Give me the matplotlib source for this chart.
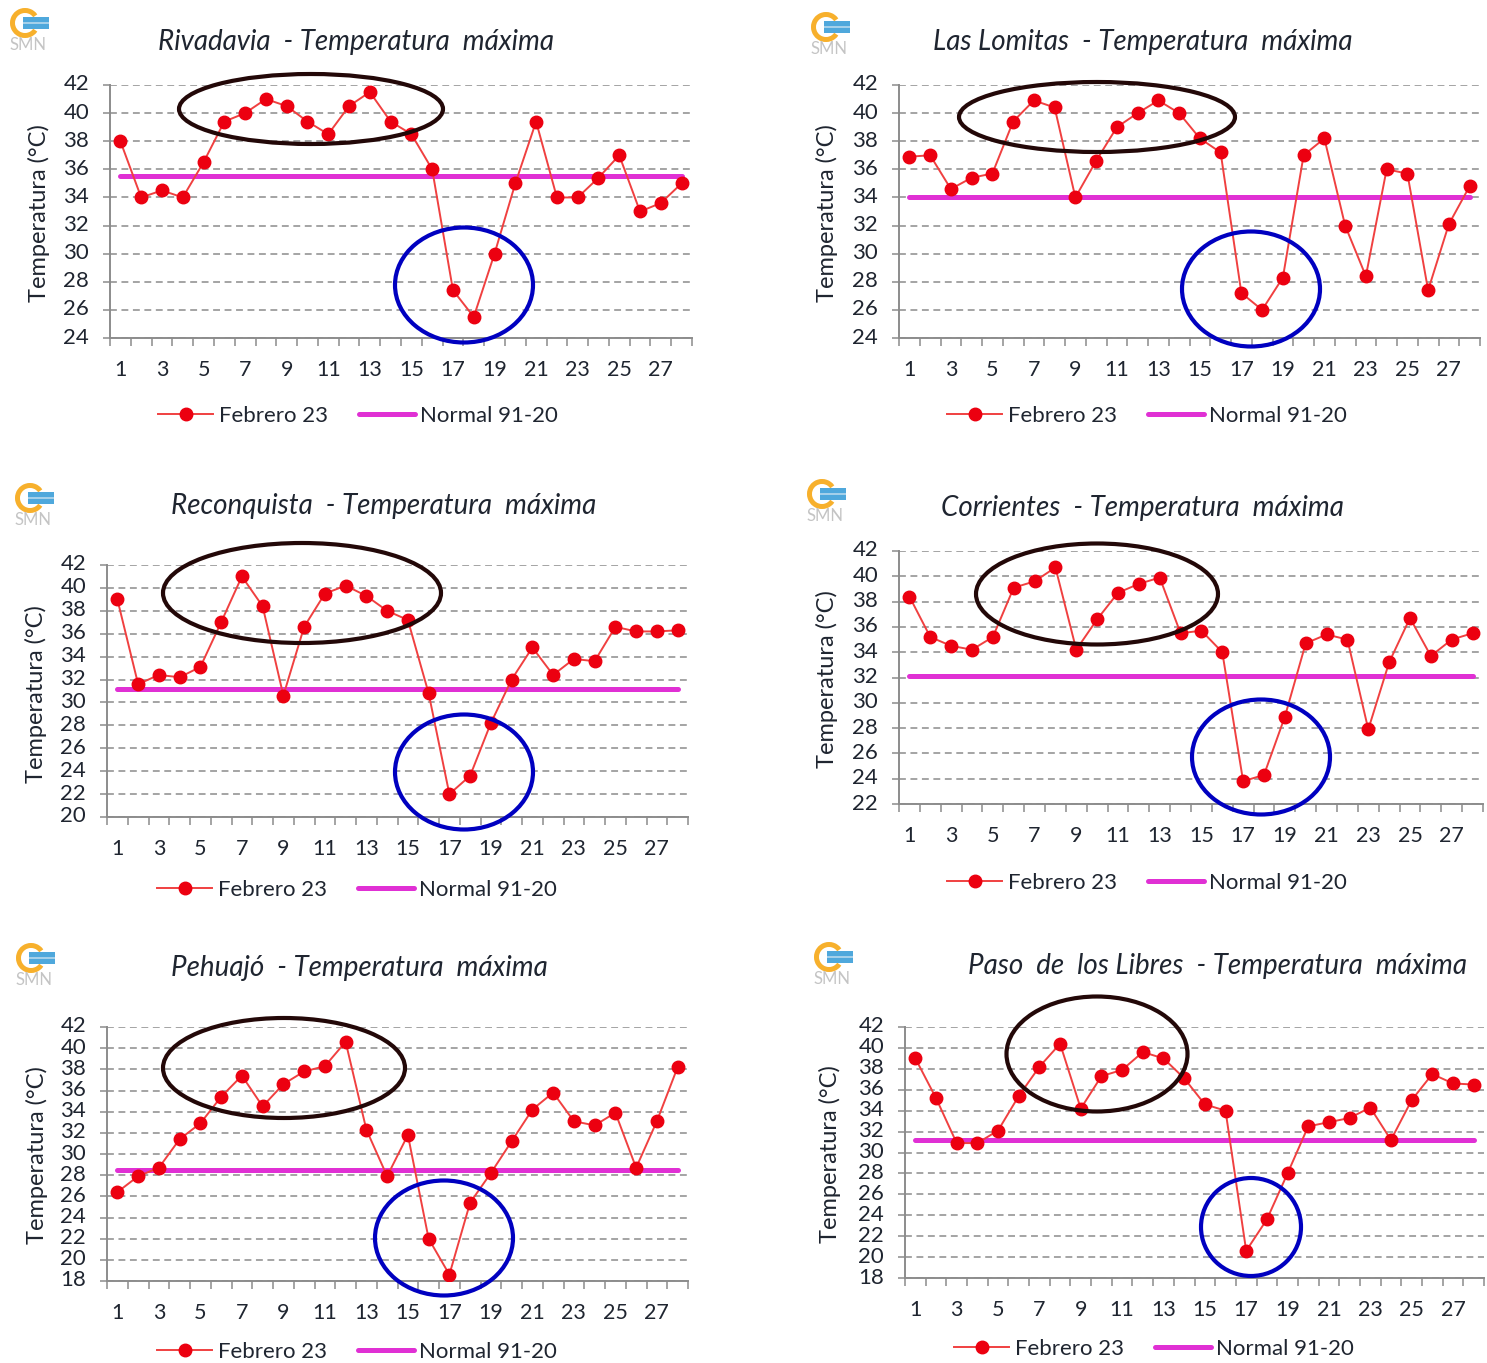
import matplotlib
matplotlib.use('Agg')
import matplotlib.pyplot as plt
import matplotlib.transforms as mtrans
from matplotlib.patches import Ellipse, Rectangle, Wedge

plt.rcParams['font.family'] = ['Lato', 'DejaVu Sans']

W, H = 1487, 1363
days = list(range(1, 29))

# Daily maximum temperature per station, February 2023
rivadavia = [38, 34, 34.5, 34, 36.5, 39.4, 40, 41, 40.5, 39.4, 38.5, 40.5, 41.5, 39.4,
             38.5, 36, 27.4, 25.5, 30, 35, 39.4, 34, 34, 35.4, 37, 33, 33.6, 35]
lomitas = [36.9, 37, 34.6, 35.4, 35.7, 39.4, 40.9, 40.4, 34, 36.6, 39, 40, 40.9, 40,
           38.2, 37.2, 27.2, 26, 28.3, 37, 38.2, 32, 28.4, 36, 35.7, 27.4, 32.1, 34.8]
reconquista = [39, 31.6, 32.4, 32.2, 33.1, 37, 41, 38.4, 30.6, 36.6, 39.5, 40.2, 39.3, 38,
               37.2, 30.8, 22, 23.6, 28.2, 32, 34.8, 32.4, 33.8, 33.6, 36.6, 36.2, 36.2, 36.3]
corrientes = [38.4, 35.2, 34.5, 34.2, 35.2, 39.1, 39.6, 40.7, 34.2, 36.6, 38.7, 39.4, 39.9, 35.5,
              35.7, 34, 23.8, 24.3, 28.9, 34.7, 35.4, 35, 27.9, 33.2, 36.7, 33.7, 35, 35.5]
pehuajo = [26.4, 27.9, 28.7, 31.4, 32.9, 35.4, 37.4, 34.5, 36.6, 37.8, 38.3, 40.6, 32.3, 27.9,
           31.8, 22, 18.6, 25.4, 28.2, 31.2, 34.2, 35.8, 33.1, 32.7, 33.9, 28.7, 33.1, 38.2]
libres = [39, 35.2, 30.9, 30.9, 32.1, 35.4, 38.2, 40.4, 34.2, 37.3, 37.9, 39.6, 39, 37.1,
          34.6, 34, 20.6, 23.6, 28, 32.5, 32.9, 33.3, 34.3, 31.2, 35, 37.5, 36.6, 36.5]

# name, values, normal, ymin
stations = [
    ('Rivadavia  - Temperatura  máxima', rivadavia, 35.5, 24),
    ('Las Lomitas  - Temperatura  máxima', lomitas, 34.0, 24),
    ('Reconquista  - Temperatura  máxima', reconquista, 31.2, 20),
    ('Corrientes  - Temperatura  máxima', corrientes, 32.1, 22),
    ('Pehuajó  - Temperatura  máxima', pehuajo, 28.5, 18),
    ('Paso  de  los Libres  - Temperatura  máxima', libres, 31.2, 18),
]

# Layout in picture pixels: left, right, y of 42, y of ymin
boxes = [(110, 692, 85, 338), (899, 1480, 85, 338), (107, 688, 565, 817),
         (899, 1483, 551, 804), (107, 688, 1027, 1281), (905, 1484, 1027, 1278)]
title_pos = [(356, 42), (1143, 42), (384, 506), (1142, 508), (359, 968), (1218, 966)]
ylabel_pos = [(39, 213), (827, 213), (36, 694), (827, 679), (37, 1155), (830, 1154)]
legend_pos = [(358, 416), (1147, 416), (357, 890), (1147, 883), (357, 1352), (1154, 1349)]
logo_pos = [(25, 23), (826, 27), (30, 498), (822, 494), (31, 958), (829, 957)]
# Hand-drawn highlights: cx, cy, width, height
black_rings = [(311, 109, 264, 70), (1097, 117, 276, 70), (302, 593, 278, 100),
               (1097, 594, 242, 101), (284, 1068, 242, 100), (1097, 1054, 181, 115)]
blue_rings = [(464, 285, 138, 115), (1251, 289, 138, 115), (464, 772, 138, 115),
              (1261, 757, 138, 115), (444, 1238, 138, 115), (1251, 1227, 100, 98)]

GRAY = '#8c8c8c'
TEXT = '#1f2530'
RED = '#ec0010'
PINK = '#e030d4'

fig = plt.figure(figsize=(W / 100, H / 100), dpi=100)

# Overlay in pixel coordinates for titles, logos and rings
over = fig.add_axes([0, 0, 1, 1], zorder=5)
over.set_xlim(0, W)
over.set_ylim(H, 0)
over.axis('off')
over.patch.set_alpha(0)


def draw_logo(cx, cy):
    over.add_patch(Wedge((cx, cy), 15, 35, 325, width=5, color='#f7b02c', lw=0))
    over.add_patch(Rectangle((cx - 2, cy - 6), 26, 5, color='#4fa8dc', lw=0))
    over.add_patch(Rectangle((cx - 2, cy - 1), 26, 2, color='#a4d0ea', lw=0))
    over.add_patch(Rectangle((cx - 2, cy + 1), 26, 5, color='#4fa8dc', lw=0))
    over.text(cx + 3, cy + 22, 'SMN', fontsize=12, color='#c4c4c4', ha='center', va='center')


for i, (title, values, normal, ymin) in enumerate(stations):
    left, right, top, bottom = boxes[i]
    ax = fig.add_axes([left / W, 1 - bottom / H, (right - left) / W, (bottom - top) / H])

    ax.plot(days, [normal] * len(days), color=PINK, lw=3.6, solid_capstyle='round',
            label='Normal 91-20', zorder=3)
    ax.plot(days, values, color='#f04040', lw=1.4, marker='o', ms=9, mfc=RED, mec=RED,
            label='Febrero 23', zorder=4)

    ax.set_xlim(0.5, 28.5)
    ax.set_ylim(ymin, 42)
    ax.set_yticks(range(ymin, 43, 2))
    ax.set_xticks([d - 0.5 for d in days] + [28.5])
    ax.set_xticklabels([])
    ax.set_xticks(days[::2], minor=True)
    ax.set_xticklabels([str(d) for d in days[::2]], minor=True)

    ax.grid(axis='y', color=GRAY, ls=(0, (4.5, 3)), lw=1.1)
    ax.set_axisbelow(True)
    for side in ['top', 'right']:
        ax.spines[side].set_visible(False)
    for side in ['left', 'bottom']:
        ax.spines[side].set_color(GRAY)
        ax.spines[side].set_linewidth(1.4)

    ax.tick_params(axis='x', which='major', length=6, width=1.1, color=GRAY)
    ax.tick_params(axis='x', which='minor', length=0, pad=15.5, labelsize=15.5, labelcolor=TEXT)
    ax.tick_params(axis='y', length=5, width=1.1, color=GRAY, pad=10, labelsize=16, labelcolor=TEXT)
    # the labels sit a little above the gridlines in the original
    shift = mtrans.ScaledTranslation(0, 0.025, fig.dpi_scale_trans)
    for lab in ax.get_yticklabels():
        lab.set_transform(lab.get_transform() + shift)

    handles, labels = ax.get_legend_handles_labels()
    ax.legend(handles[::-1], labels[::-1], ncol=2, frameon=False, fontsize=16, loc='center',
              bbox_to_anchor=legend_pos[i], bbox_transform=over.transData,
              handlelength=2.5, handletextpad=0.25, columnspacing=1.4, labelcolor=TEXT)

    over.text(*title_pos[i], title, fontsize=20, style='italic', color=TEXT,
              ha='center', va='center')
    over.text(*ylabel_pos[i], 'Temperatura (°C)', fontsize=17, color=TEXT, rotation=90,
              ha='center', va='center')
    draw_logo(*logo_pos[i])

    cx, cy, w, h = black_rings[i]
    over.add_patch(Ellipse((cx, cy), w, h, fill=False, ec='#230808', lw=3))
    cx, cy, w, h = blue_rings[i]
    over.add_patch(Ellipse((cx, cy), w, h, fill=False, ec='#0000c0', lw=3))

fig.savefig('out.png', dpi=100)
